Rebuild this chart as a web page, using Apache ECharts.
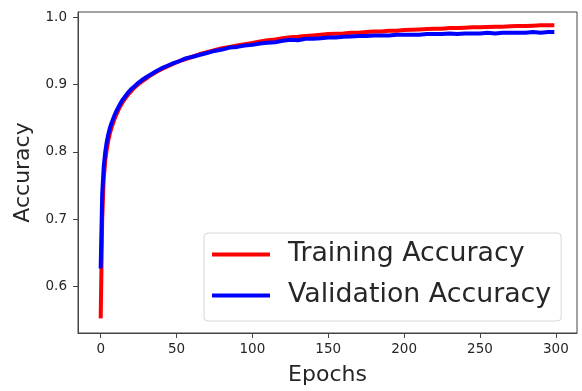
<!DOCTYPE html>
<html>
<head>
<meta charset="utf-8">
<script src="https://cdn.jsdelivr.net/npm/echarts@6/dist/echarts.min.js"></script>
<style>
  html, body { margin: 0; padding: 0; background: #fff; }
  #chart { width: 582px; height: 391px; }
</style>
</head>
<body>
<div id="chart"></div>
<script>
const epochs = [
  0, 1, 2, 3, 4, 5, 6, 7, 8, 9, 10, 12, 14, 16, 18, 20, 22, 25, 28, 30, 33, 36, 40, 44, 48, 52, 56,
  60, 65, 70, 75, 80, 85, 90, 95, 100, 105, 110, 115, 120, 125, 130, 135, 140, 145, 150, 155, 160,
  165, 170, 175, 180, 185, 190, 195, 200, 205, 210, 215, 220, 225, 230, 235, 240, 245, 250, 255,
  260, 265, 270, 275, 280, 285, 290, 295, 299
];
const trainAcc = [
  0.553, 0.700, 0.760, 0.787, 0.804, 0.817, 0.827, 0.835, 0.842, 0.848, 0.854, 0.864, 0.872, 0.879,
  0.885, 0.890, 0.895, 0.901, 0.906, 0.909, 0.914, 0.918, 0.923, 0.927, 0.931, 0.935, 0.938,
  0.941, 0.945, 0.948, 0.951, 0.954, 0.956, 0.958, 0.960, 0.962, 0.964, 0.966, 0.967, 0.969, 0.9705,
  0.971, 0.972, 0.973, 0.974, 0.975, 0.9755, 0.976, 0.977, 0.977, 0.978, 0.979, 0.979, 0.980, 0.980,
  0.981, 0.9815, 0.982, 0.9825, 0.983, 0.983, 0.984, 0.984, 0.9845, 0.985, 0.985, 0.9855, 0.986,
  0.986, 0.9865, 0.987, 0.987, 0.9875, 0.988, 0.988, 0.988, 0.9885
];
const valAcc = [
  0.627, 0.738, 0.778, 0.800, 0.815, 0.826, 0.835, 0.842, 0.848, 0.854, 0.859, 0.868, 0.876, 0.882,
  0.888, 0.893, 0.897, 0.903, 0.908, 0.911, 0.915, 0.919, 0.924, 0.928, 0.932, 0.935, 0.939,
  0.941, 0.944, 0.947, 0.950, 0.952, 0.955, 0.956, 0.958, 0.959, 0.961, 0.962, 0.963, 0.965, 0.9665,
  0.966, 0.968, 0.968, 0.969, 0.970, 0.970, 0.971, 0.9715, 0.972, 0.972, 0.973, 0.973, 0.973, 0.974,
  0.974, 0.974, 0.974, 0.975, 0.975, 0.975, 0.976, 0.975, 0.976, 0.976, 0.976, 0.977, 0.976,
  0.977, 0.977, 0.977, 0.977, 0.978, 0.977, 0.978, 0.978
];
const xTicks = [0, 50, 100, 150, 200, 250, 300];
const yTicks = [0.6, 0.7, 0.8, 0.9, 1.0];

const font = "DejaVu Sans";
const ink = "#262626";
const spine = "#444";

const chart = echarts.init(document.getElementById("chart"), null, { renderer: "canvas" });

const pairs = (ys) => epochs.map((e, i) => [e, ys[i]]);

chart.setOption({
  animation: false,
  backgroundColor: "#fff",
  grid: {
    left: 78,
    right: 5,
    top: 12,
    bottom: 55,
    show: true,
    borderColor: spine,
    borderWidth: 1,
    backgroundColor: "transparent",
  },
  legend: {
    orient: "vertical",
    left: 204,
    top: 233,
    padding: [8, 10, 12, 8],
    itemWidth: 58,
    itemHeight: 4,
    itemGap: 14,
    icon: "rect",
    backgroundColor: "rgba(255,255,255,0.8)",
    borderColor: "#d6d6d6",
    borderWidth: 1,
    borderRadius: 4,
    textStyle: {
      fontFamily: font,
      fontSize: 26.8,
      color: ink,
      padding: [0, 0, 0, 13],
    },
    data: ["Training Accuracy", "Validation Accuracy"],
  },
  xAxis: {
    type: "value",
    min: -14.95,
    max: 313.95,
    name: "Epochs",
    nameLocation: "middle",
    nameGap: 31,
    nameTextStyle: { fontFamily: font, fontSize: 22, color: ink, verticalAlign: "top" },
    axisLine: { show: true, onZero: false, lineStyle: { color: spine } },
    axisTick: { show: true, length: 5, lineStyle: { color: spine }, customValues: xTicks },
    axisLabel: {
      fontFamily: font,
      fontSize: 13.5,
      color: ink,
      margin: 9,
      customValues: xTicks,
    },
    splitLine: { show: false },
  },
  yAxis: {
    type: "value",
    min: 0.5313,
    max: 1.0078,
    name: "Accuracy",
    nameLocation: "middle",
    nameGap: 42,
    nameTextStyle: { fontFamily: font, fontSize: 22, color: ink },
    axisLine: { show: true, onZero: false, lineStyle: { color: spine } },
    axisTick: { show: true, length: 5, lineStyle: { color: spine }, customValues: yTicks },
    axisLabel: {
      fontFamily: font,
      fontSize: 13.5,
      color: ink,
      margin: 11,
      customValues: yTicks,
      formatter: (v) => v.toFixed(1),
    },
    splitLine: { show: false },
  },
  series: [
    {
      name: "Training Accuracy",
      type: "line",
      data: pairs(trainAcc),
      symbol: "none",
      color: "#ff0000",
      lineStyle: { color: "#ff0000", width: 4 },
    },
    {
      name: "Validation Accuracy",
      type: "line",
      data: pairs(valAcc),
      symbol: "none",
      color: "#0000ff",
      lineStyle: { color: "#0000ff", width: 4 },
    },
  ],
});
</script>
</body>
</html>
